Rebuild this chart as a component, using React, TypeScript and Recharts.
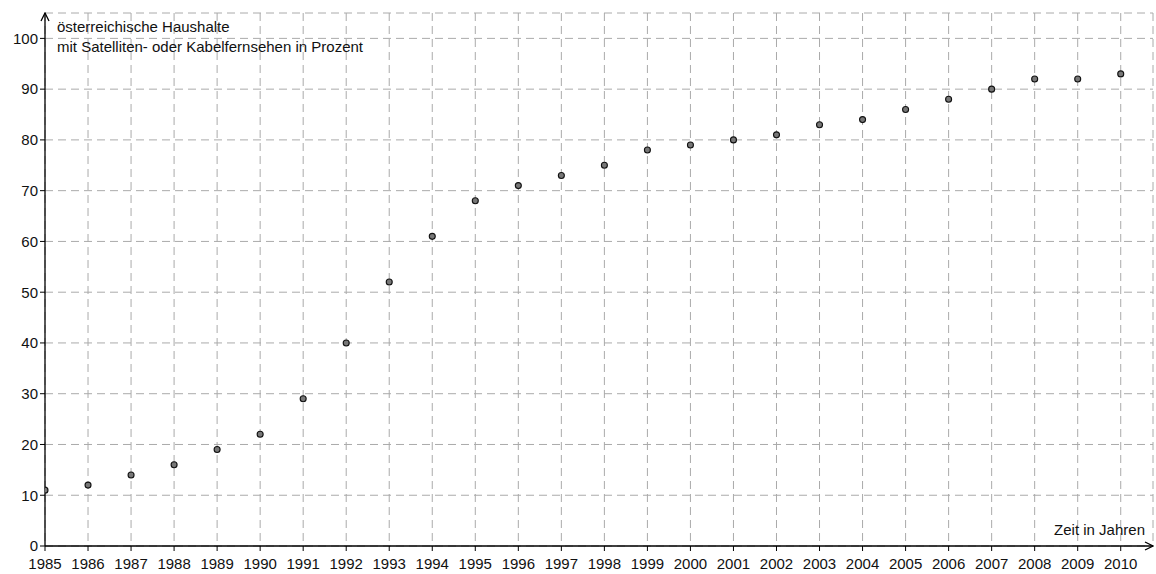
import { ScatterChart, Scatter, XAxis, YAxis, CartesianGrid } from "recharts";

const years = [
  1985, 1986, 1987, 1988, 1989, 1990, 1991, 1992, 1993, 1994, 1995, 1996, 1997,
  1998, 1999, 2000, 2001, 2002, 2003, 2004, 2005, 2006, 2007, 2008, 2009, 2010,
];
const shares = [
  11, 12, 14, 16, 19, 22, 29, 40, 52, 61, 68, 71, 73, 75, 78, 79, 80, 81, 83,
  84, 86, 88, 90, 92, 92, 93,
];
const yTicks = [0, 10, 20, 30, 40, 50, 60, 70, 80, 90, 100];

const data = years.map((year, i) => ({ year, share: shares[i] }));

const font = "'Liberation Sans', Arial, sans-serif";

const Dot = (props: any) => (
  <circle cx={props.cx} cy={props.cy} r={3} fill="#777" stroke="#111" strokeWidth={1.1} />
);

export default function App() {
  return (
    <div style={{ position: "absolute", left: 0, top: 0, width: 1156, height: 574, background: "#fff", fontFamily: font }}>
      <svg width={0} height={0} style={{ position: "absolute" }}>
        <defs>
          <marker id="arrowHead" viewBox="0 0 10 10" refX="9" refY="5" markerWidth="10" markerHeight="10" markerUnits="userSpaceOnUse" orient="auto-start-reverse">
            <path d="M1,1 L9,5 L1,9" fill="none" stroke="#000" strokeWidth={1.3} />
          </marker>
        </defs>
      </svg>
      <ScatterChart width={1156} height={574} margin={{ top: 13, right: 3, bottom: 0, left: 0 }}>
        <CartesianGrid stroke="#aaa" strokeDasharray="8 5" />
        <XAxis
          type="number"
          dataKey="year"
          domain={[1985, 2010.75]}
          ticks={years}
          allowDataOverflow
          height={28}
          tickSize={5}
          tickLine={{ stroke: "#000" }}
          axisLine={{ stroke: "#000", strokeWidth: 1.3, markerEnd: "url(#arrowHead)" }}
          tick={{ fill: "#111", fontSize: 15, fontFamily: font, dy: 5 }}
        />
        <YAxis
          type="number"
          dataKey="share"
          domain={[0, 105]}
          ticks={yTicks}
          allowDataOverflow
          width={45}
          tickSize={5}
          tickLine={{ stroke: "#000" }}
          axisLine={{ stroke: "#000", strokeWidth: 1.3, markerStart: "url(#arrowHead)" }}
          tick={{ fill: "#111", fontSize: 15, fontFamily: font }}
        />
        <Scatter data={data} shape={Dot} isAnimationActive={false} />
      </ScatterChart>
      <div style={{ position: "absolute", left: 57, top: 17, fontSize: 15, lineHeight: "20px", color: "#111", whiteSpace: "nowrap" }}>
        österreichische Haushalte
        <br />
        mit Satelliten- oder Kabelfernsehen in Prozent
      </div>
      <div style={{ position: "absolute", right: 11, top: 521, fontSize: 15, color: "#111", whiteSpace: "nowrap" }}>
        Zeit in Jahren
      </div>
    </div>
  );
}
